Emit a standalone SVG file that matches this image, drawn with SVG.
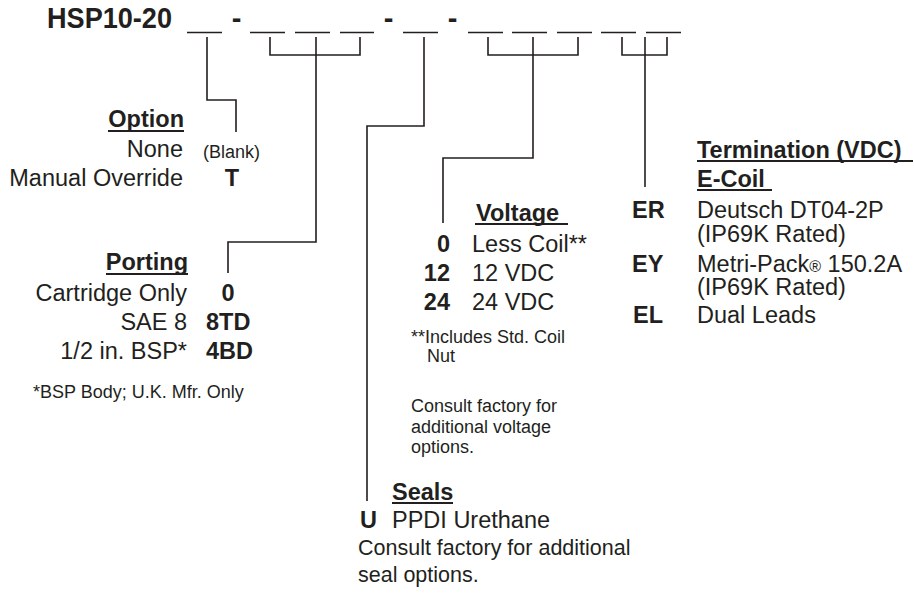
<svg xmlns="http://www.w3.org/2000/svg" width="914" height="596" viewBox="0 0 914 596">
<style>
text{font-family:"Liberation Sans",Arial,Helvetica,sans-serif;fill:#231f20}
.h{font-size:29px;font-weight:bold}
.b{font-size:23.5px;font-weight:bold}
.r{font-size:23.5px}
.s{font-size:18px}
.c{font-size:21.5px}
.e{text-anchor:end}
.m{text-anchor:middle}
.ln{stroke:#231f20;stroke-width:1.6;fill:none}
.ul{stroke:#231f20;stroke-width:1.8}
</style>
<rect width="914" height="596" fill="#fff"/>
<g id="header">
<text class="h" x="47" y="28" textLength="125" lengthAdjust="spacingAndGlyphs">HSP10-20</text>
<text class="h m" x="236.5" y="28">-</text>
<text class="h m" x="388.5" y="28">-</text>
<text class="h m" x="452.5" y="28">-</text>
<g class="ln">
<path d="M187,32.5H222M250,32.5H285M295,32.5H330M340,32.5H374M403,32.5H438M468,32.5H503M512,32.5H547M557,32.5H592M601,32.5H636M646,32.5H681"/>
</g>
</g>
<g id="connectors" class="ln">
<path d="M207,37V100H236V132"/>
<path d="M270,37V55H360V37"/>
<path d="M316,37V242H228V273"/>
<path d="M424,37V126H367V501"/>
<path d="M488,37V55H578V37"/>
<path d="M533,37V158H443V223"/>
<path d="M622,37V55H667V37"/>
<path d="M645,37V187"/>
</g>
<g id="option">
<text class="b e" x="184" y="127">Option</text>
<line class="ul" x1="108" y1="131" x2="184" y2="131"/>
<text class="r e" x="183" y="157">None</text>
<text class="s" x="203" y="158">(Blank)</text>
<text class="r e" x="183" y="186">Manual Override</text>
<text class="b m" x="232" y="186">T</text>
</g>
<g id="porting">
<text class="b e" x="188" y="270">Porting</text>
<line class="ul" x1="106" y1="274" x2="188" y2="274"/>
<text class="r e" x="187" y="301">Cartridge Only</text>
<text class="b m" x="228" y="301">0</text>
<text class="r e" x="187" y="330">SAE 8</text>
<text class="b" x="206" y="330">8TD</text>
<text class="r e" x="187" y="359">1/2 in. BSP*</text>
<text class="b" x="206" y="359">4BD</text>
<text class="s" x="33" y="398">*BSP Body; U.K. Mfr. Only</text>
</g>
<g id="voltage">
<text class="b" x="476" y="221">Voltage</text>
<line class="ul" x1="475" y1="224" x2="568" y2="224"/>
<text class="b e" x="450" y="252">0</text>
<text class="r" x="472" y="252">Less Coil**</text>
<text class="b e" x="450" y="281">12</text>
<text class="r" x="472" y="281">12 VDC</text>
<text class="b e" x="450" y="310">24</text>
<text class="r" x="472" y="310">24 VDC</text>
<text class="s" x="411" y="343">**Includes Std. Coil</text>
<text class="s" x="427" y="362">Nut</text>
<text class="s" x="411" y="412">Consult factory for</text>
<text class="s" x="411" y="433">additional voltage</text>
<text class="s" x="411" y="453">options.</text>
</g>
<g id="seals">
<text class="b" x="392" y="500">Seals</text>
<line class="ul" x1="392" y1="503" x2="453" y2="503"/>
<text class="b" x="360" y="528">U</text>
<text class="r" x="392" y="528">PPDI Urethane</text>
<text class="c" x="358" y="555">Consult factory for additional</text>
<text class="c" x="358" y="582">seal options.</text>
</g>
<g id="termination">
<text class="b" x="697" y="158">Termination (VDC)</text>
<line class="ul" x1="697" y1="161" x2="913" y2="161"/>
<text class="b" x="697" y="187">E-Coil</text>
<line class="ul" x1="697" y1="190" x2="772" y2="190"/>
<text class="b" x="632" y="218">ER</text>
<text class="r" x="697" y="218">Deutsch DT04-2P</text>
<text class="r" x="697" y="242">(IP69K Rated)</text>
<text class="b" x="632" y="272">EY</text>
<text class="r" x="697" y="272">Metri-Pack<tspan font-size="16">®</tspan> 150.2A</text>
<text class="r" x="697" y="295">(IP69K Rated)</text>
<text class="b" x="633" y="323">EL</text>
<text class="r" x="697" y="323">Dual Leads</text>
</g>
</svg>
